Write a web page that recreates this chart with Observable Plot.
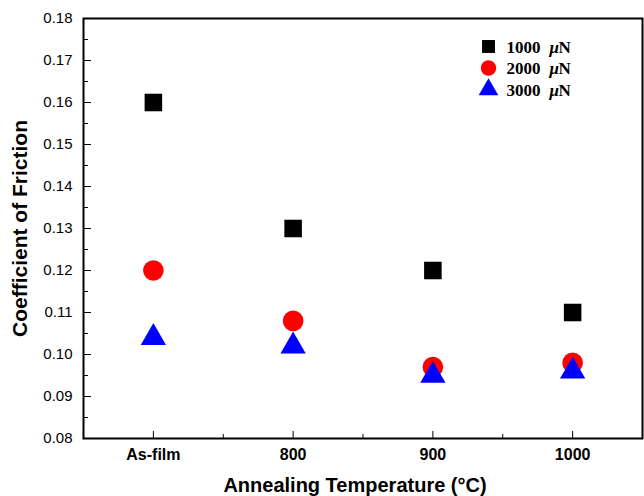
<!DOCTYPE html>
<html>
<head>
<meta charset="utf-8">
<script src="https://cdn.jsdelivr.net/npm/d3@7"></script>
<script src="https://cdn.jsdelivr.net/npm/@observablehq/plot@0.6"></script>
<style>
  html, body { margin: 0; padding: 0; background: white; }
</style>
</head>
<body>
<div id="chart"></div>
<script>
const categories = ["As-film", "800", "900", "1000"];
const cof1000 = [0.16, 0.13, 0.12, 0.11];
const cof2000 = [0.12, 0.108, 0.097, 0.098];
const cof3000 = [0.104, 0.102, 0.095, 0.096];
const loadValues = ["1000", "2000", "3000"];
const unitMu = "\u03bc";
const unitN = "N";
const yMajorTicks = [0.08, 0.09, 0.10, 0.11, 0.12, 0.13, 0.14, 0.15, 0.16, 0.17, 0.18];
const yMinorTicks = [0.085, 0.095, 0.105, 0.115, 0.125, 0.135, 0.145, 0.155, 0.165, 0.175];
const xMajorTicks = [0, 1, 2, 3];
const xMinorTicks = [0.5, 1.5, 2.5];
const yTitle = "Coefficient of Friction";
const xTitle = "Annealing Temperature (\u00b0C)";

const series = [
  {values: cof1000, load: loadValues[0], symbol: "square", color: "#000000", r: 9.9, lr: 7.3},
  {values: cof2000, load: loadValues[1], symbol: "circle", color: "#ff0000", r: 10.3, lr: 7.7},
  {values: cof3000, load: loadValues[2], symbol: "triangle", color: "#0000ff", r: 9.4, lr: 7.3}
];

const marks = [];
// axes
marks.push(Plot.axisY(yMajorTicks, {tickSize: -8, tickPadding: 19, tickFormat: d3.format(".2f"), fontSize: 15, label: null}));
marks.push(Plot.axisY(yMinorTicks, {tickSize: -5, text: null, label: null}));
marks.push(Plot.axisX(xMajorTicks, {tickSize: -7, tickPadding: 17, tickFormat: i => categories[i], fontSize: 16, fontWeight: "bold", label: null}));
marks.push(Plot.axisX(xMinorTicks, {tickSize: -4, text: null, label: null}));
marks.push(Plot.frame({stroke: "black", strokeWidth: 2}));
// data
series.forEach(s => {
  marks.push(Plot.dot(s.values, {x: (d, i) => i, y: d => d, symbol: s.symbol, fill: s.color, stroke: "none", r: s.r}));
});
// legend
const legendText = {x: null, y: null, frameAnchor: "top-left", textAnchor: "start", lineAnchor: "middle", fontFamily: "'Liberation Serif', 'Times New Roman', serif", fontWeight: "bold", fontSize: 17, fill: "black"};
series.forEach((s, i) => {
  const dy = 28 + i * 21.5;
  marks.push(Plot.dot([s], {x: null, y: null, frameAnchor: "top-left", dx: 405, dy, symbol: s.symbol, fill: s.color, stroke: "none", r: s.lr}));
  marks.push(Plot.text([s], {...legendText, text: d => d.load, dx: 423, dy: dy + 1}));
  marks.push(Plot.text([s], {...legendText, text: () => unitMu, dx: 466, dy: dy + 1, fontStyle: "italic"}));
  marks.push(Plot.text([s], {...legendText, text: () => unitN, dx: 475, dy: dy + 1}));
});
// titles
marks.push(Plot.text([yTitle], {x: null, y: null, text: d => d, frameAnchor: "left", rotate: -90, dx: -63, fontSize: 21, fontWeight: "bold", textAnchor: "middle", lineAnchor: "middle", fill: "black"}));
marks.push(Plot.text([xTitle], {x: null, y: null, text: d => d, frameAnchor: "bottom", dx: -8, dy: 47, fontSize: 20, fontWeight: "bold", textAnchor: "middle", lineAnchor: "middle", fill: "black"}));

const chart = Plot.plot({
  width: 644,
  height: 496,
  marginLeft: 83,
  marginRight: 2,
  marginTop: 18,
  marginBottom: 58,
  x: {type: "linear", domain: [-0.5, 3.5]},
  y: {type: "linear", domain: [0.08, 0.18]},
  style: {fontFamily: "'Liberation Sans', Arial, sans-serif", fontSize: "15px", background: "white", color: "black", overflow: "visible"},
  marks
});
document.getElementById("chart").append(chart);
</script>
</body>
</html>
